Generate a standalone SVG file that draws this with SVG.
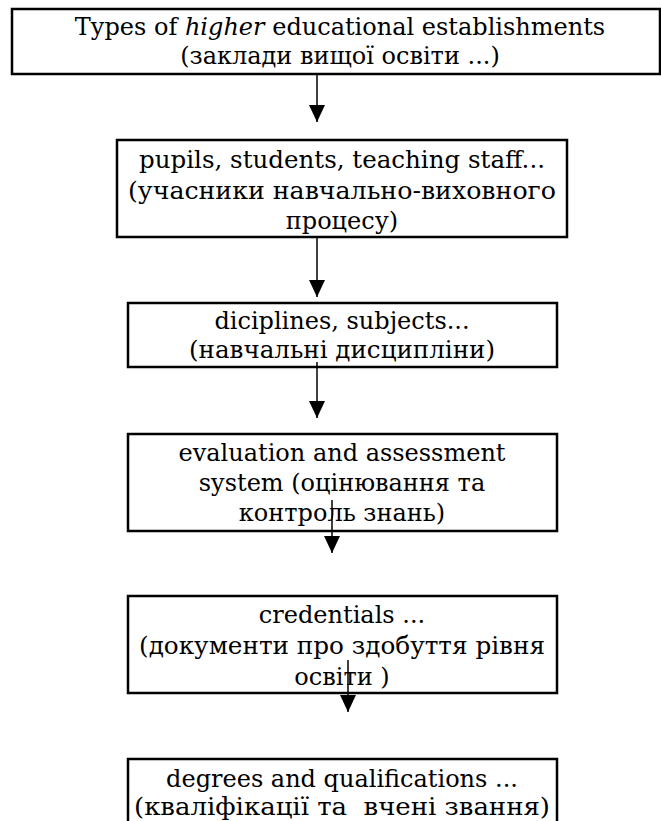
<svg xmlns="http://www.w3.org/2000/svg" width="661" height="821" viewBox="0 0 661 821">
<defs>
<style>
.box{fill:#fff;stroke:#000;stroke-width:2.5}
.t{font-family:"DejaVu Serif","Liberation Serif",serif;font-size:24px;fill:#000;text-anchor:middle}
.c{stroke:#000;stroke-width:1.5;fill:none;marker-end:url(#ah)}
</style>
<marker id="ah" viewBox="0 0 17 16" refX="17" refY="8" markerWidth="17" markerHeight="16" markerUnits="userSpaceOnUse" orient="auto">
<path d="M0,0 L17,8 L0,16 z" fill="#000"/>
</marker>
</defs>
<rect width="661" height="821" fill="#fff"/>
<g id="n1">
<rect class="box" x="12" y="9" width="648" height="65"/>
<text class="t" x="340" y="35">Types of <tspan font-style="italic">higher</tspan> educational establishments</text>
<text class="t" x="340" y="64">(заклади вищої освіти ...)</text>
</g>
<g id="n2">
<rect class="box" x="117" y="140" width="450" height="97"/>
<text class="t" x="342" y="168" textLength="406" lengthAdjust="spacingAndGlyphs">pupils, students, teaching staff...</text>
<text class="t" x="342" y="199" textLength="428" lengthAdjust="spacingAndGlyphs">(учасники навчально-виховного</text>
<text class="t" x="342" y="229">процесу)</text>
</g>
<g id="n3">
<rect class="box" x="128" y="303" width="429" height="64"/>
<text class="t" x="342" y="329">diciplines, subjects...</text>
<text class="t" x="342" y="358" textLength="306" lengthAdjust="spacingAndGlyphs">(навчальні дисципліни)</text>
</g>
<g id="n4">
<rect class="box" x="128" y="434" width="429" height="97"/>
<text class="t" x="342" y="461">evaluation and assessment</text>
<text class="t" x="342" y="491">system (оцінювання та</text>
<text class="t" x="342" y="521">контроль знань)</text>
</g>
<g id="n5">
<rect class="box" x="128" y="596" width="429" height="97"/>
<text class="t" x="342" y="623">credentials ...</text>
<text class="t" x="342" y="654" textLength="406" lengthAdjust="spacingAndGlyphs">(документи про здобуття рівня</text>
<text class="t" x="342" y="685">освіти )</text>
</g>
<g id="n6">
<rect class="box" x="128" y="759" width="429" height="80"/>
<text class="t" x="342" y="787">degrees and qualifications ...</text>
<text class="t" x="342" y="815" xml:space="preserve" textLength="416" lengthAdjust="spacingAndGlyphs">(кваліфікації та  вчені звання)</text>
</g>
<g id="connectors">
<line class="c" x1="317" y1="74" x2="317" y2="122"/>
<line class="c" x1="317" y1="237" x2="317" y2="297"/>
<line class="c" x1="317" y1="362" x2="317" y2="418"/>
<line class="c" x1="332" y1="500" x2="332" y2="553"/>
<line class="c" x1="348" y1="660" x2="348" y2="712"/>
</g>
</svg>
